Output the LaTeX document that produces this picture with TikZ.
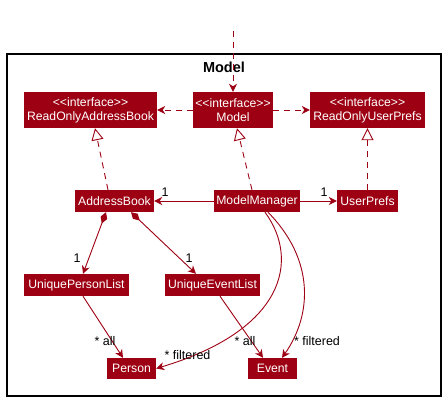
\documentclass[tikz,border=0pt]{standalone}
\usepackage{fontspec}
\setmainfont{Liberation Sans}
\usetikzlibrary{arrows.meta}
\definecolor{modelred}{HTML}{9D0012}
\tikzset{
  cls/.style={fill=modelred,text=white,inner sep=0pt,minimum height=22pt,align=center,font=\fontsize{12.2}{14}\selectfont},
  iface/.style={cls,minimum height=36pt},
  lbl/.style={font=\fontsize{12.5}{14}\selectfont,inner sep=0pt},
  dep/.style={modelred,line width=0.9pt,dash pattern=on 6pt off 5pt,-{Stealth[length=8pt,width=8pt,inset=2.5pt]}},
  assoc/.style={modelred,line width=0.9pt,-{Stealth[length=8pt,width=8pt,inset=2.5pt]}},
  realize/.style={modelred,line width=0.9pt,dash pattern=on 6pt off 5pt,-{Triangle[open,fill=white,length=12pt,width=12pt]}},
  compose/.style={modelred,line width=0.9pt,{Diamond[length=12pt,width=7pt]}-{Stealth[length=8pt,width=8pt,inset=2.5pt]}}
}
\newcommand{\stereo}{<{}<interface>{}>}
\begin{document}
\begin{tikzpicture}[x=1pt,y=-1pt]
\useasboundingbox (0,0) rectangle (446,402);
\draw[gray!60,line width=2.4pt] (7,54) rectangle (441,396);
\draw[black,line width=1.1pt] (7,54) rectangle (441,396);
\node[font=\bfseries\fontsize{14.5}{16}\selectfont] (pkg) at (224,67) {Model};
\node[iface,minimum width=133pt] (roab) at (90.5,110) {\stereo\\ReadOnlyAddressBook};
\node[iface,minimum width=80pt] (imodel) at (233,110) {\stereo\\Model};
\node[iface,minimum width=115pt] (roup) at (367.5,110) {\stereo\\ReadOnlyUserPrefs};
\node[cls,minimum width=79pt] (ab) at (114.5,201) {AddressBook};
\node[cls,minimum width=86pt] (mm) at (257,201) {ModelManager};
\node[cls,minimum width=61pt] (up) at (367.5,201) {UserPrefs};
\node[cls,minimum width=105pt] (upl) at (76.5,285) {UniquePersonList};
\node[cls,minimum width=95pt] (uel) at (212.5,285) {UniqueEventList};
\node[cls,minimum width=49pt,minimum height=21pt] (person) at (131.5,368.5) {Person};
\node[cls,minimum width=49pt,minimum height=21pt] (event) at (272.5,368.5) {Event};
\coordinate (entry) at (233,31);
\draw[dep] (entry) -- (imodel.north);
\draw[dep] (imodel.west) -- (roab.east);
\draw[dep] (imodel.east) -- (roup.west);
\draw[realize] ([xshift=-6.5pt]ab.north) -- ([xshift=4.5pt]roab.south);
\draw[realize] ([xshift=-5pt]mm.north) -- ([xshift=4pt]imodel.south);
\draw[realize] (up.north) -- (roup.south);
\draw[assoc] (mm.west) -- (ab.east);
\draw[assoc] (mm.east) -- (up.west);
\node[lbl] (n1) at (165,192) {1};
\node[lbl] (n2) at (324,192) {1};
\draw[compose] ([xshift=-8.5pt]ab.south) -- ([xshift=6.5pt]upl.north);
\draw[compose] ([xshift=16.5pt]ab.south) -- ([xshift=-16.5pt]uel.north);
\node[lbl] (n3) at (77,258) {1};
\node[lbl] (n4) at (189,258) {1};
\draw[assoc] ([xshift=6.5pt]upl.south) -- ([xshift=-8.5pt]person.north);
\draw[assoc] ([xshift=7.5pt]uel.south) -- ([xshift=-9.5pt]event.north);
\node[lbl] (a1) at (105,341) {* all};
\node[lbl] (a2) at (245,341) {* all};
\draw[assoc] ([xshift=8pt]mm.south) .. controls (300,260) and (285,330) .. (person.east);
\draw[assoc] ([xshift=11pt]mm.south) .. controls (315,260) and (312,315) .. ([xshift=9.5pt]event.north);
\node[lbl] (f1) at (187.5,355) {* filtered};
\node[lbl] (f2) at (317,341) {* filtered};
\end{tikzpicture}
\end{document}
